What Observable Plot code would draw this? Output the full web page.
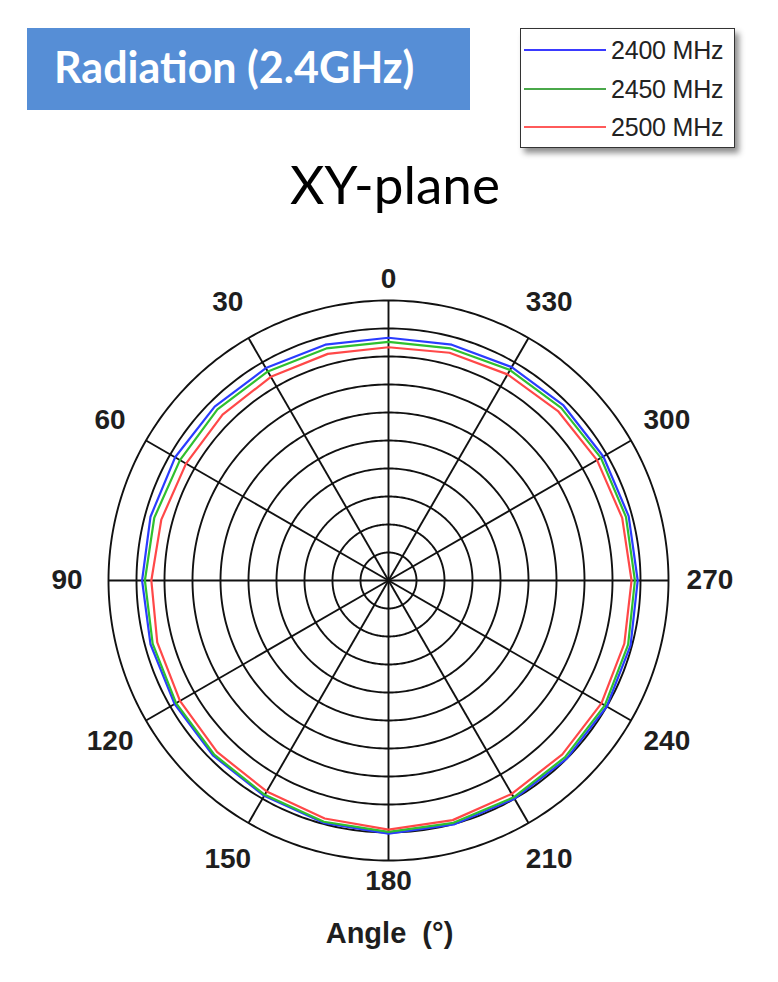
<!DOCTYPE html>
<html>
<head>
<meta charset="utf-8">
<script src="https://cdn.jsdelivr.net/npm/d3@7"></script>
<script src="https://cdn.jsdelivr.net/npm/@observablehq/plot@0.6"></script>
<style>
  html, body { margin: 0; padding: 0; background: #fff; }
  #page { position: relative; width: 778px; height: 982px; overflow: hidden; }
  #chart { position: absolute; left: 0; top: 0; }
  #banner { position: absolute; left: 27px; top: 28px; width: 443px; height: 82px; background: #568ed6; }
  #banner span { position: absolute; left: 27px; top: 13px; font-family: Lato, "Open Sans", sans-serif; font-weight: bold; font-size: 43px; line-height: 52px; color: #fff; white-space: nowrap; }
  #title { position: absolute; left: 0; width: 778px; top: 153px; text-align: center; padding-left: 12px; box-sizing: border-box; font-family: Lato, "Open Sans", sans-serif; font-size: 53px; line-height: 62px; color: #000; }
  #legend { position: absolute; left: 520px; top: 28px; width: 213px; height: 118px; border: 1px solid #333; background: #fff; box-shadow: 4px 5px 6px rgba(0,0,0,0.45); }
  .lg { position: absolute; left: 3px; height: 30px; width: 210px; }
  .lg i { position: absolute; left: 0; top: 14px; width: 82px; height: 2px; }
  .lg b { position: absolute; left: 87px; top: 0; font-family: "Liberation Sans", Arial, sans-serif; font-weight: normal; font-size: 25px; line-height: 30px; color: #222; letter-spacing: -0.2px; white-space: nowrap; }
</style>
</head>
<body>
<div id="page">
  <div id="chart"></div>
  <div id="banner"><span>Radiation (2.4GHz)</span></div>
  <div id="legend"></div>
  <div id="title">XY-plane</div>
</div>
<script>
// ---- data ----
const angles = [0, 15, 30, 45, 60, 75, 90, 105, 120, 135, 150, 165, 180, 195, 210, 225, 240, 255, 270, 285, 300, 315, 330, 345];
const s2400 = [8.67, 8.72, 8.76, 8.78, 8.80, 8.80, 8.80, 8.80, 8.82, 8.85, 8.88, 8.96, 9.04, 9.02, 9.00, 9.00, 9.00, 8.95, 8.90, 8.88, 8.86, 8.84, 8.80, 8.72];
const s2450 = [8.52, 8.58, 8.62, 8.64, 8.60, 8.66, 8.70, 8.72, 8.76, 8.80, 8.84, 8.92, 8.98, 8.96, 8.94, 8.92, 8.92, 8.86, 8.80, 8.78, 8.76, 8.72, 8.68, 8.58];
const s2500 = [8.33, 8.38, 8.40, 8.38, 8.35, 8.40, 8.47, 8.55, 8.60, 8.66, 8.70, 8.80, 8.90, 8.86, 8.80, 8.78, 8.78, 8.72, 8.68, 8.64, 8.60, 8.56, 8.50, 8.42];
const seriesNames = ["2400 MHz", "2450 MHz", "2500 MHz"];
const seriesValues = [s2400, s2450, s2500];
const seriesColors = ["#2a3cff", "#2fc02f", "#ff4848"];
const legendColors = ["#3a3aff", "#4aa84a", "#ff5a5a"];
const ringValues = [1, 2, 3, 4, 5, 6, 7, 8, 9, 10];
const spokeAngles = [0, 30, 60, 90, 120, 150, 180, 210, 240, 270, 300, 330];
const tickLabels = ["0", "30", "60", "90", "120", "150", "180", "210", "240", "270", "300", "330"];
const axisTitle = "Angle\u00a0\u00a0(°)";

// ---- build table ----
const rows = [];
seriesNames.forEach((name, si) => {
  const vals = seriesValues[si];
  angles.forEach((a, i) => rows.push({series: name, angle: a, r: vals[i]}));
  rows.push({series: name, angle: 360, r: vals[0]}); // close loop
});
const labels = spokeAngles.map((a, i) => ({angle: a, text: tickLabels[i]}));

const lon = a => 180 + a;            // 0 at top, counter-clockwise
const lat = r => 90 - r;
const labelR = a => (a % 180 === 0 ? 10.75 : 11.48);
const ring = r => d3.geoCircle().center([0, 90]).radius(r).precision(1)();

const chart = Plot.plot({
  width: 778,
  height: 982,
  marginLeft: 20,
  marginRight: 20,
  marginTop: 240,
  marginBottom: 20,
  projection: {
    type: "azimuthal-equidistant",
    rotate: [0, -90],
    domain: ring(10),
    insetLeft: 88,
    insetRight: 90,
    insetTop: 60,
    insetBottom: 102
  },
  color: {domain: seriesNames, range: seriesColors},
  marks: [
    Plot.geo(ringValues, {geometry: ring, fill: "none", stroke: "#111", strokeWidth: 1.9}),
    Plot.link(spokeAngles, {x1: a => lon(a), y1: 90, x2: a => lon(a), y2: lat(10), stroke: "#111", strokeWidth: 1.9}),
    Plot.line(rows, {x: d => lon(d.angle), y: d => lat(d.r), z: "series", stroke: "series", strokeWidth: 2.2, curve: "linear"}),
    Plot.text(labels, {x: d => lon(d.angle), y: d => lat(labelR(d.angle)), text: "text", fontSize: 28, fontWeight: "bold", fill: "#1e1e1e", fontFamily: "Liberation Sans, Arial, sans-serif"}),
    Plot.text([axisTitle], {frameAnchor: "bottom", dy: -20, text: d => d, fontSize: 29, fontWeight: "bold", fill: "#1e1e1e", fontFamily: "Liberation Sans, Arial, sans-serif"})
  ]
});
document.getElementById("chart").appendChild(chart);

// ---- legend ----
const lg = document.getElementById("legend");
seriesNames.forEach((name, i) => {
  const row = document.createElement("div");
  row.className = "lg";
  row.style.top = (6 + i * 38.5) + "px";
  row.innerHTML = `<i style="background:${legendColors[i]}"></i><b>${name}</b>`;
  lg.appendChild(row);
});
</script>
</body>
</html>
